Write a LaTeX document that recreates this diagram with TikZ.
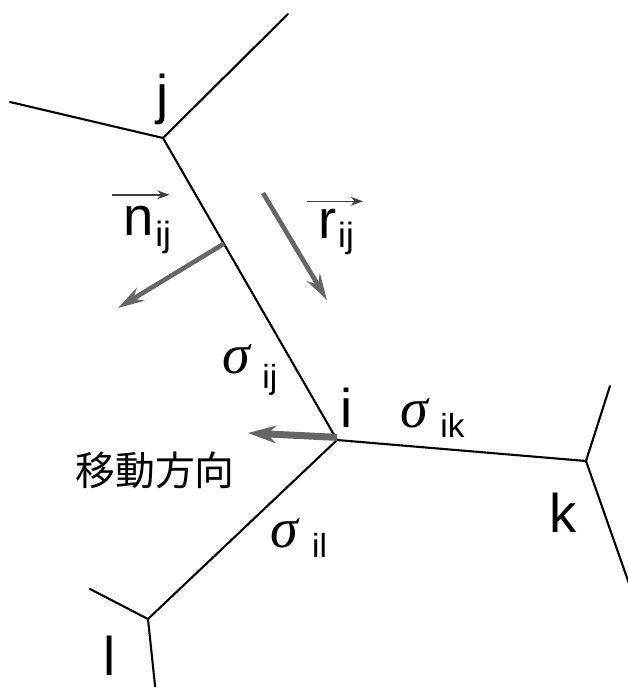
\documentclass[tikz,border=0pt]{standalone}
\usepackage{fontspec}
\setmainfont{Liberation Sans}
\newfontfamily\grfont{Liberation Serif}
\newfontfamily\jpfont{Noto Sans CJK JP}
\usetikzlibrary{positioning,arrows.meta,calc}

\tikzset{
  edge/.style={line width=1.2pt, line cap=round},
  vec/.style={line width=2.6pt, draw=black!60, -{Stealth[length=15pt,width=8.5pt]}},
  movevec/.style={line width=4pt, draw=black!60, -{Stealth[length=16pt,width=10pt]}},
  overvec/.style={line width=0.8pt, draw=black!75, -{Stealth[length=7pt,width=5pt]}},
  lbl/.style={font=\fontsize{31}{36}\selectfont, inner sep=0pt, anchor=base},
  sig/.style={font=\fontsize{32}{36}\selectfont\grfont\itshape, inner sep=0pt, anchor=base west}
}

\begin{document}
\begin{tikzpicture}[x=0.02cm, y=-0.02cm]
  % --- page frame (pixel units) ---
  \useasboundingbox (0,0) rectangle (627,687);
  \def\subsz{\normalfont\fontsize{20}{22}\selectfont}
  \def\sigsub{\normalfont\fontsize{19}{22}\selectfont}

  % --- triple junctions ---
  \coordinate (j) at (163,138);
  \coordinate (i) at (337,440);
  \coordinate (k) at (586,461);
  \coordinate (l) at (148,619);

  % --- free ends of the boundaries ---
  \coordinate (ja) at (10,102);
  \coordinate (jb) at (288,14);
  \coordinate (ka) at (610,386);
  \coordinate (kb) at (632,592);
  \coordinate (la) at (90,589);
  \coordinate (lb) at (156,695);

  % --- grain boundaries ---
  \foreach \a/\b in {j/ja, j/jb, j/i, i/k, i/l, k/ka, k/kb, l/la, l/lb} {
    \draw[edge] (\a) -- (\b);
  }

  % --- vectors ---
  \coordinate (nfoot) at ($(j)!0.35!(i)$);
  \coordinate (ntip) at (118,308);
  \coordinate (rtail) at (263,193);
  \coordinate (rtip) at (327,300);
  \coordinate (mtip) at (248,433);
  \draw[vec] (nfoot) -- (ntip);
  \draw[vec] (rtail) -- (rtip);
  \draw[movevec] ([yshift=1.5pt]i) -- (mtip);

  % --- junction labels ---
  \node[lbl] (labj) at (163,113) {j};
  \node[lbl] (labi) at (347,427) {i};
  \node[lbl] (labk) at (563,532) {k};
  \node[lbl] (labl) at (110,675) {l};

  % --- vector labels ---
  \node[lbl, anchor=base west] (nij) at (123,235)
    {n\hspace{1pt}\raisebox{-6.5pt}{\subsz ij}};
  \node[lbl, anchor=base west] (rij) at (318,238)
    {r\hspace{1pt}\raisebox{-5.5pt}{\subsz ij}};
  \draw[overvec] ([shift={(-6pt,6pt)}]nij.north west) -- ([shift={(-1pt,6pt)}]nij.north east);
  \draw[overvec] ([shift={(-6pt,4pt)}]rij.north west) -- ([shift={(5pt,4pt)}]rij.north east);

  % --- tensions ---
  \node[sig] (sij) at (222,373) {σ\hspace{7pt}\raisebox{-9pt}{\sigsub ij}};
  \node[sig] (sik) at (400,427) {σ\hspace{7pt}\raisebox{-6pt}{\sigsub ik}};
  \node[sig] (sil) at (270,547) {σ\hspace{8pt}\raisebox{-6pt}{\sigsub il}};

  % --- direction of motion ---
  \node[font=\fontsize{22.7}{26}\selectfont\jpfont, inner sep=0pt] (move) at (155,470) {移動方向};
\end{tikzpicture}
\end{document}
